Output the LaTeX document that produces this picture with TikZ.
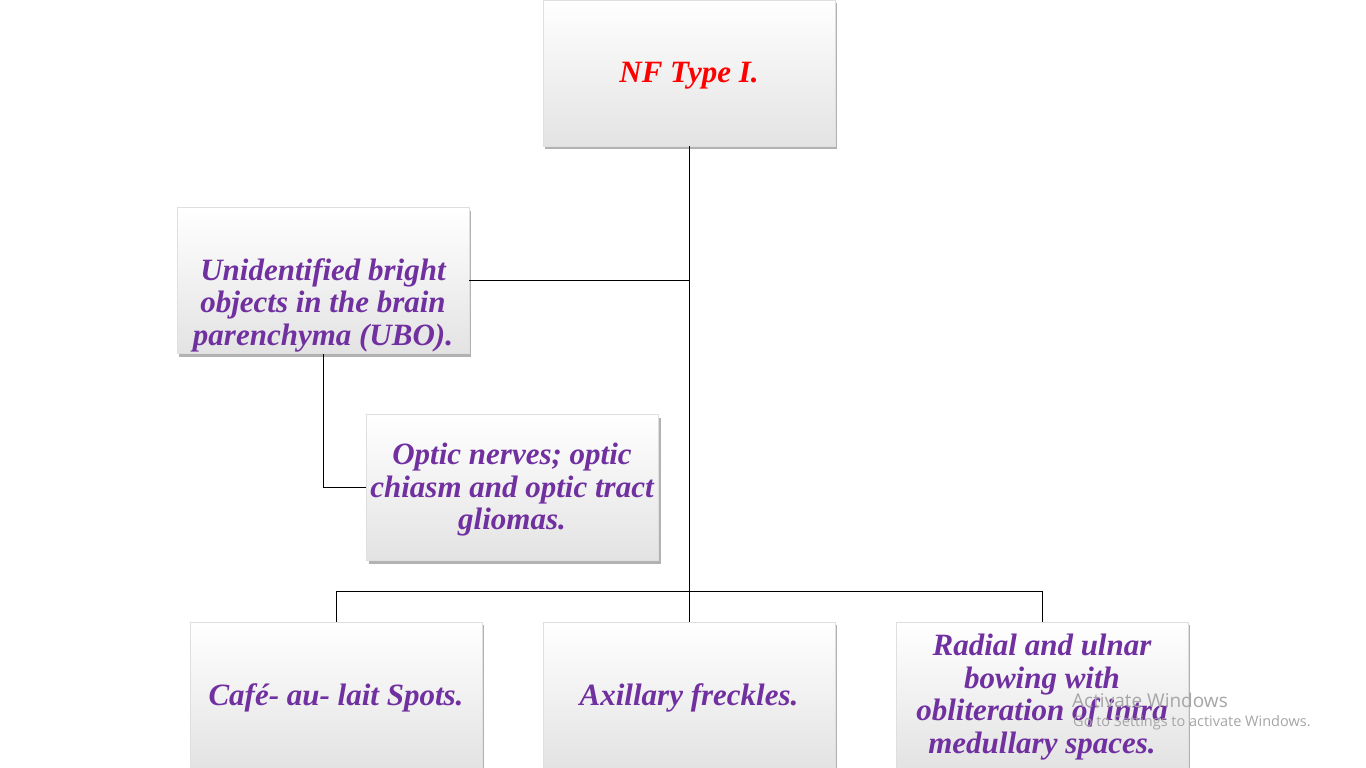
\documentclass[tikz,border=0pt]{standalone}
\usepackage{fontspec}
\setmainfont{Liberation Serif}
\newfontfamily\wmfont{Open Sans}
\usetikzlibrary{shadows}
\definecolor{ppurple}{HTML}{7030A0}
\definecolor{wmgray}{HTML}{A6A6A6}
\tikzset{
  box/.style={rectangle, draw=gray!25, line width=0.5pt,
    top color=white, middle color=white, bottom color=black!11,
    minimum width=292pt, minimum height=146pt, inner sep=0pt,
    drop shadow={shadow xshift=2pt, shadow yshift=-3pt, fill=black, opacity=0.3}},
  txt/.style={font=\fontsize{31}{32.5}\selectfont\bfseries\itshape, text=ppurple,
    align=center, inner sep=0pt},
  conn/.style={draw=black, line width=0.9pt},
  wm/.style={font=\wmfont, text=wmgray, anchor=west, inner sep=0pt}
}
\begin{document}
\begin{tikzpicture}[x=1pt,y=-1pt]
\useasboundingbox (0,0) rectangle (1366,768);
\fill[white] (0,0) rectangle (1366,768);
% connectors
\coordinate (j1) at (689,280);
\coordinate (j2) at (689,591);
\coordinate (jl) at (336,591);
\coordinate (jr) at (1042,591);
\coordinate (jo) at (323,487);
% boxes
\node[box] (top) at (689,73) {};
\node[box] (ubo) at (323,280.5) {};
\node[box] (opt) at (512.5,487.5) {};
\node[box] (cafe) at (336,695) {};
\node[box] (axil) at (689,695) {};
\node[box] (rad) at (1042,695) {};
\draw[conn] (top.south) -- (axil.north);
\draw[conn] (ubo.east |- j1) -- (j1);
\draw[conn] (jl) -- (jr);
\draw[conn] (jl) -- (cafe.north);
\draw[conn] (jr) -- (rad.north);
\draw[conn] (ubo.south) -- (jo) -- (opt.west |- jo);
% texts
\node[txt, text=red] (ttop) at (689,76) {NF Type I.};
\node[txt] (tubo) at (323,305) {Unidentified bright\\objects in the brain\\parenchyma (UBO).};
\node[txt] (topt) at (512,490) {Optic nerves; optic\\chiasm and optic tract\\gliomas.};
\node[txt] (tcafe) at (336,698) {Café- au- lait Spots.};
\node[txt] (taxil) at (689,698) {Axillary freckles.};
\node[txt] (trad) at (1042,697) {Radial and ulnar\\bowing with\\obliteration of intra\\medullary spaces.};
% watermark
\node[wm, font=\wmfont\fontsize{19}{22}\selectfont] (wm1) at (1072,700) {Activate Windows};
\node[wm, font=\wmfont\fontsize{14.5}{17}\selectfont] (wm2) at (1073,723) {Go to Settings to activate Windows.};
\end{tikzpicture}
\end{document}
